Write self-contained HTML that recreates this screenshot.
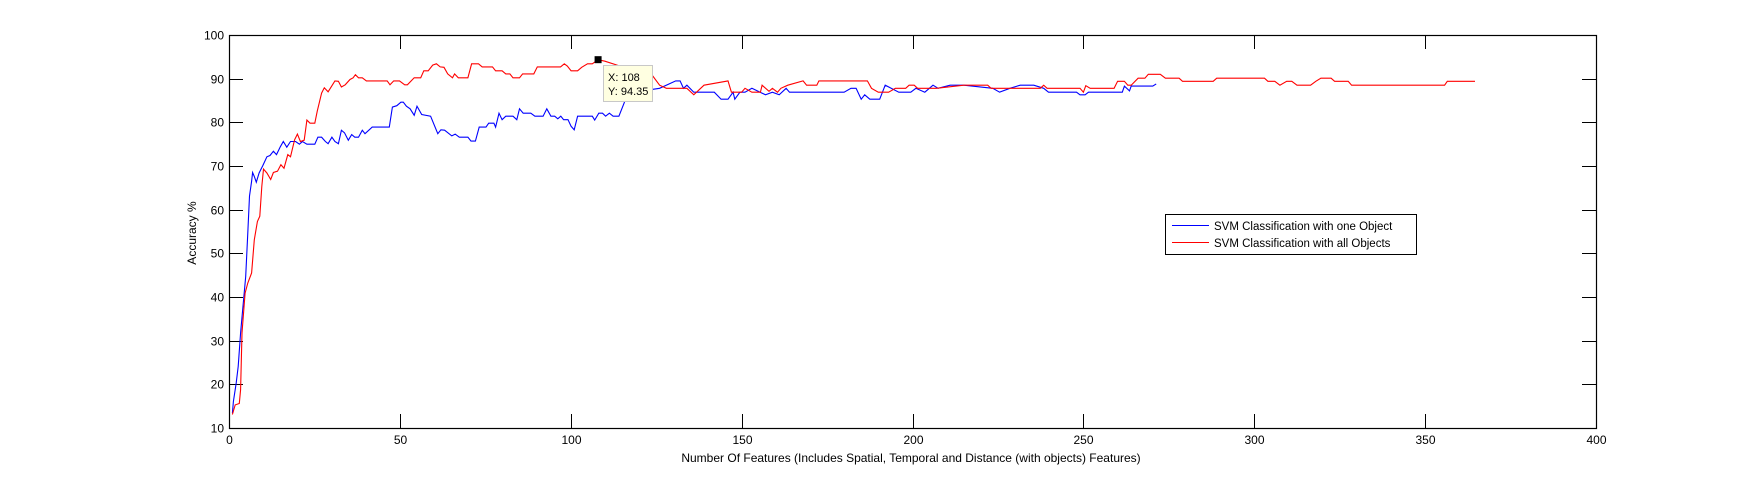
<!DOCTYPE html>
<html><head><meta charset="utf-8"><style>
body{margin:0;background:#fff;width:1763px;height:481px;overflow:hidden}
svg{display:block;font-family:"Liberation Sans",sans-serif}
</style></head><body>
<svg id="chart" width="1763" height="481" viewBox="0 0 1763 481"></svg>
<script>
const xTicks=[0,50,100,150,200,250,300,350,400];
const yTicks=[10,20,30,40,50,60,70,80,90,100];
const blueX=[1,1.3,2.1,2.7,3.4,4.1,4.9,5.5,6,6.6,6.9,7.4,8,8.8,9.9,11.1,12,13,13.9,15,15.9,16.9,18,19.5,20.6,21.5,22.8,25.1,26,27.1,28.2,29,30.1,31,32,32.9,33.8,34.9,35.9,36.8,37.9,39,39.8,41.9,46.9,47.8,49.1,50.3,51,51.9,53,54.2,55,56.4,59,61.1,62,63.1,65.2,66.2,67.4,69.9,70.8,72.1,73.2,75.2,76,77.5,78,79,79.9,81,83.1,84.2,85,86.1,88.3,89.5,91.9,93,94.2,95.3,96.2,97.1,97.9,99.2,100.1,101,102,106.3,107,108.2,109.3,110.2,111.3,112.4,114.1,115.6,116.6,126,130.7,132,133,134,136,142,144,146,147.5,148,149.5,151,153,157,159,161,163,164,180,182,183.5,185,186,187.5,190.4,192,196,199.5,201,203.6,206,207.5,211,215,223.5,225.5,228.5,231.5,235.5,238.4,239.8,242,248,249,250.5,251.5,261.4,262,263.5,264,270.3,271.3];
const blueY=[13.4,16.1,20.3,24.1,31.8,37.9,44.7,54.7,63.1,66.5,68.5,67.6,66.3,68.4,70.1,72.1,72.4,73.4,72.6,74.4,75.6,74.3,75.6,75.6,75.0,75.6,75.0,75.0,76.6,76.6,75.6,75.1,76.6,75.6,75.1,78.2,77.6,75.9,77.2,76.6,76.6,78.2,77.4,78.9,78.9,83.5,83.8,84.6,84.6,83.7,83.1,81.6,83.7,81.8,81.4,77.4,78.3,78.2,76.9,77.3,76.6,76.6,75.7,75.7,78.9,78.9,79.8,79.8,78.9,82.1,80.6,81.4,81.4,80.6,83.1,82.1,82.1,81.4,81.4,83.1,81.4,81.4,80.8,81.4,80.6,80.6,79.1,78.3,81.4,81.4,80.5,82.1,82.1,81.4,82.1,81.4,81.4,84.4,86.7,87.8,89.5,89.5,87.8,88.5,86.9,86.9,85.3,85.3,86.9,85.3,86.9,86.9,87.8,86.3,86.9,86.3,87.8,86.9,86.9,87.8,87.8,85.3,86.3,85.3,85.3,88.5,86.9,86.9,87.8,86.9,88.5,87.8,88.5,88.5,87.8,86.9,87.8,88.5,88.5,87.8,86.9,86.9,86.9,86.3,86.3,86.9,86.9,88.3,87.2,88.3,88.3,88.8];
const redX=[1,1.8,3,3.4,3.8,4.7,5.5,6.6,7.4,8.3,9,9.6,10.1,11.1,12.2,13,14.2,15.2,16.1,17.2,18,19.2,20,20.9,22,22.8,23.7,25.1,25.8,27.1,27.9,29,31,32,32.9,34,35.4,36.3,37,37.9,39,40.2,46.3,47.1,48.2,49.9,51.4,52.2,54.2,56.1,57,58.3,59.6,60.7,61.8,62.9,64,65.4,66,67.1,69.9,71,73,74.1,77.1,78,79.9,81,82.2,83.1,85,85.9,89.2,90.2,97,98.1,99,100.1,102,103.2,104.9,106.3,108,110,114,118,121,124,126,128,134,136,139,146,147,150,151,153,155.5,156,158,159,160.5,161.5,163.5,168,169,172,172.6,186.8,188,190,193,195,198,199,200.5,201.5,207,215,222,223,237.4,238.4,239.4,249,250,250.7,252,259,260,262,263,264,266,268,269,272.5,274,278,279,288,289,303,304,306,307.5,309.5,311,312.5,316.5,318,319.5,322.5,323.5,327.5,328.5,355.7,356.5,364.6];
const redY=[13.1,15.3,15.6,18.8,31.8,40.9,43.2,45.5,53.1,57.3,58.5,65.3,69.3,68.4,66.9,68.5,68.8,70.3,69.5,72.6,72.1,76.0,77.3,75.6,75.9,80.5,79.8,79.8,82.5,86.7,87.9,87.0,89.5,89.4,88.1,88.6,89.8,90.2,90.9,90.2,90.2,89.5,89.5,88.6,89.5,89.5,88.6,88.6,90.2,90.2,91.8,91.8,93.1,93.4,92.7,92.6,91.1,90.2,91.1,90.2,90.2,93.4,93.4,92.7,92.7,91.8,91.8,91.1,91.1,90.2,90.2,91.1,91.1,92.7,92.7,93.4,92.9,91.8,91.8,92.6,93.4,93.4,94.35,94.0,93.0,92.0,91.0,90.6,88.5,87.8,87.8,86.3,88.5,89.5,86.9,86.9,87.8,86.9,86.9,88.5,87.1,87.8,86.9,87.8,88.5,89.5,88.5,88.5,89.5,89.5,87.8,86.9,86.9,87.8,87.8,88.5,88.5,87.8,87.8,88.5,88.5,87.8,87.8,88.5,87.8,87.8,86.9,88.4,87.8,87.8,89.4,89.4,88.5,88.5,90.1,90.1,91.0,91.0,90.1,90.1,89.4,89.4,90.1,90.1,89.4,89.4,88.5,89.4,89.4,88.5,88.5,89.4,90.1,90.1,89.4,89.4,88.5,88.5,89.4,89.4];
const dataTipX=108, dataTipY=94.35;

const L=229,R=1596,T=35,B=428;
const sx=v=>L+(v-0)/(400-0)*(R-L);
const sy=v=>B-(v-10)/(100-10)*(B-T);
const svg=document.getElementById('chart');
const NS='http://www.w3.org/2000/svg';
function mk(tag,attrs,parent){const e=document.createElementNS(NS,tag);for(const k in attrs)e.setAttribute(k,attrs[k]);(parent||svg).appendChild(e);return e;}

let e=mk('rect',{x:L,y:T,width:R-L,height:B-T,fill:'#fff',stroke:'none'});



xTicks.forEach(v=>{
  const x=Math.round(sx(v))+0.5;
  let t=mk('line',{x1:x,y1:B,x2:x,y2:B-14,stroke:'#000'});
  
  
  let t2=mk('line',{x1:x,y1:T,x2:x,y2:T+14,stroke:'#000'});
  
  
  let lb=mk('text',{x:x,y:B+16,'font-size':'12','text-anchor':'middle',fill:'#000'});
  lb.textContent=v;
  
  
});
yTicks.forEach(v=>{
  const y=Math.round(sy(v))+0.5;
  let t=mk('line',{x1:L,y1:y,x2:L+14,y2:y,stroke:'#000'});
  
  
  let t2=mk('line',{x1:R,y1:y,x2:R-14,y2:y,stroke:'#000'});
  
  
  let lb=mk('text',{x:L-5,y:y+4,'font-size':'12','text-anchor':'end',fill:'#000'});
  lb.textContent=v;
  
  
});

function series(xs,ys,color,name){
  const d=xs.map((x,i)=>(i?'L':'M')+sx(x).toFixed(1)+','+sy(ys[i]).toFixed(1)).join('');
  const p=mk('path',{d:d,fill:'none',stroke:color,'stroke-width':'1.1'});
  
  
}
series(blueX,blueY,'#0000ff','series-one-object');
series(redX,redY,'#ff0000','series-all-objects');

e=mk('rect',{x:L+0.5,y:T+0.5,width:R-L,height:B-T,fill:'none',stroke:'#000','stroke-width':'1.2'});



// data tip
const mx=sx(dataTipX),my=sy(dataTipY);
e=mk('rect',{x:mx-3.5,y:my-3.5,width:7,height:7,fill:'#000'});


const g=mk('g',{});


mk('rect',{x:603.5,y:65.5,width:49,height:36,fill:'#ffffe1',stroke:'#c8c8c8'},g);
let tx=mk('text',{x:608,y:81,'font-size':'11',fill:'#000'},g);tx.textContent='X: '+dataTipX;


let ty=mk('text',{x:608,y:95,'font-size':'11',fill:'#000'},g);ty.textContent='Y: '+dataTipY;


</script>
<svg style="position:absolute;left:0;top:0" width="1763" height="481">
  <text x="196" y="233" font-size="12" text-anchor="middle" transform="rotate(-90 196 233)" font-family="Liberation Sans, sans-serif">Accuracy %</text>
  <text x="911" y="462" font-size="12" text-anchor="middle" font-family="Liberation Sans, sans-serif">Number Of Features (Includes Spatial, Temporal and Distance (with objects) Features)</text>
  <g>
    <rect x="1165.5" y="214.5" width="251" height="40" fill="#fff" stroke="#000"/>
    <line x1="1172" y1="225.5" x2="1209" y2="225.5" stroke="#0000ff"/>
    <text x="1214" y="230" font-size="11.5" font-family="Liberation Sans, sans-serif">SVM Classification with one Object</text>
    <line x1="1172" y1="242.5" x2="1209" y2="242.5" stroke="#ff0000"/>
    <text x="1214" y="247" font-size="11.5" font-family="Liberation Sans, sans-serif">SVM Classification with all Objects</text>
  </g>
</svg>
</body></html>
